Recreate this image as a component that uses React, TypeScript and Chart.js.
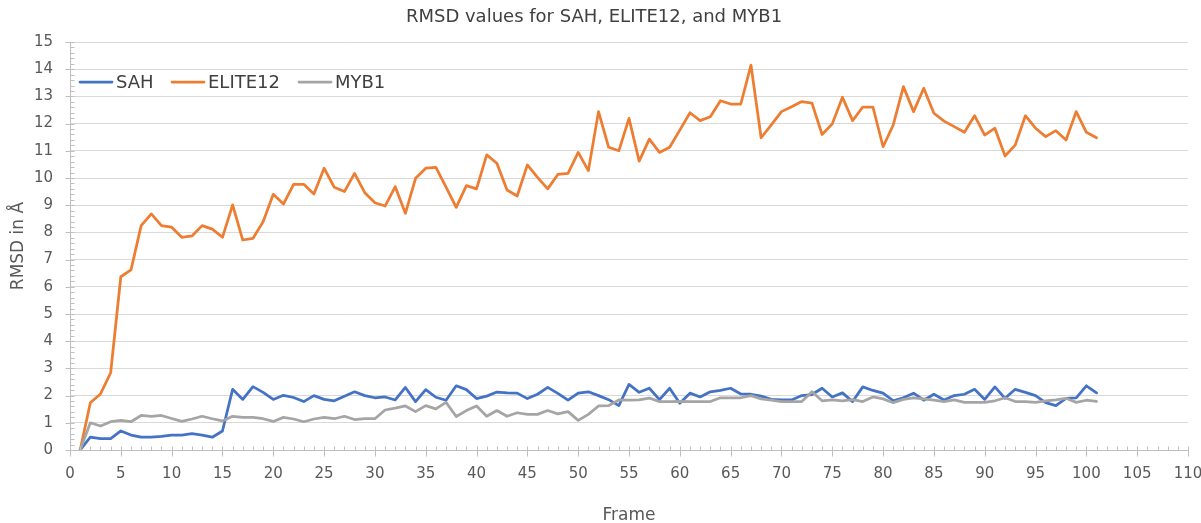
import React, { useEffect, useRef } from "react";
import { Chart, registerables } from "chart.js";

Chart.register(...registerables);

const frames = [
  1, 2, 3, 4, 5, 6, 7, 8, 9, 10, 11, 12, 13, 14, 15, 16, 17, 18, 19, 20,
  21, 22, 23, 24, 25, 26, 27, 28, 29, 30, 31, 32, 33, 34, 35, 36, 37, 38, 39, 40,
  41, 42, 43, 44, 45, 46, 47, 48, 49, 50, 51, 52, 53, 54, 55, 56, 57, 58, 59, 60,
  61, 62, 63, 64, 65, 66, 67, 68, 69, 70, 71, 72, 73, 74, 75, 76, 77, 78, 79, 80,
  81, 82, 83, 84, 85, 86, 87, 88, 89, 90, 91, 92, 93, 94, 95, 96, 97, 98, 99, 100, 101,
];

const sah = [
  0, 0.47, 0.42, 0.42, 0.7, 0.55, 0.47, 0.47, 0.5, 0.55,
  0.55, 0.6, 0.55, 0.47, 0.7, 2.23, 1.86, 2.33, 2.12, 1.86,
  2.01, 1.93, 1.78, 2.0, 1.86, 1.81, 1.98, 2.14, 2.0, 1.92,
  1.95, 1.84, 2.3, 1.78, 2.22, 1.94, 1.83, 2.36, 2.22, 1.89,
  1.98, 2.13, 2.1, 2.09, 1.89, 2.05, 2.3, 2.08, 1.83, 2.09,
  2.14, 2.0, 1.85, 1.63, 2.41, 2.12, 2.27, 1.85, 2.27, 1.72,
  2.09, 1.95, 2.14, 2.19, 2.27, 2.06, 2.05, 1.98, 1.86, 1.84,
  1.84, 2.0, 2.04, 2.27, 1.95, 2.1, 1.78, 2.32, 2.19, 2.09,
  1.81, 1.92, 2.09, 1.83, 2.05, 1.84, 2.0, 2.05, 2.23, 1.86,
  2.32, 1.9, 2.23, 2.12, 2.0, 1.74, 1.63, 1.9, 1.92, 2.36, 2.1,
];

const elite12 = [
  0, 1.74, 2.06, 2.84, 6.37, 6.62, 8.25, 8.68, 8.25, 8.19,
  7.82, 7.87, 8.25, 8.12, 7.82, 9.01, 7.72, 7.78, 8.39, 9.4,
  9.04, 9.77, 9.77, 9.41, 10.36, 9.66, 9.5, 10.17, 9.46, 9.09,
  8.97, 9.68, 8.7, 9.99, 10.36, 10.39, 9.66, 8.92, 9.72, 9.6,
  10.85, 10.54, 9.56, 9.34, 10.48, 10.02, 9.6, 10.13, 10.17, 10.94,
  10.27, 12.44, 11.13, 11.0, 12.19, 10.62, 11.43, 10.94, 11.13, 11.76,
  12.4, 12.11, 12.25, 12.84, 12.72, 12.72, 14.15, 11.48, 11.95, 12.44,
  12.62, 12.81, 12.75, 11.6, 11.99, 12.97, 12.11, 12.61, 12.61, 11.15,
  11.95, 13.36, 12.44, 13.3, 12.38, 12.09, 11.89, 11.68, 12.29, 11.58,
  11.83, 10.81, 11.21, 12.29, 11.83, 11.52, 11.74, 11.4, 12.44, 11.68, 11.48,
];

const myb1 = [
  0, 1.0, 0.88, 1.04, 1.09, 1.04, 1.27, 1.24, 1.27, 1.16,
  1.05, 1.14, 1.24, 1.15, 1.07, 1.24, 1.2, 1.2, 1.15, 1.05,
  1.2, 1.14, 1.04, 1.14, 1.2, 1.15, 1.24, 1.12, 1.15, 1.15,
  1.47, 1.54, 1.62, 1.41, 1.63, 1.51, 1.75, 1.23, 1.45, 1.62,
  1.24, 1.45, 1.24, 1.37, 1.31, 1.31, 1.45, 1.33, 1.41, 1.09,
  1.31, 1.62, 1.63, 1.84, 1.83, 1.84, 1.91, 1.78, 1.78, 1.79,
  1.78, 1.78, 1.78, 1.92, 1.92, 1.92, 2.0, 1.88, 1.83, 1.78,
  1.78, 1.78, 2.14, 1.81, 1.84, 1.81, 1.85, 1.78, 1.95, 1.88,
  1.74, 1.86, 1.92, 1.88, 1.83, 1.78, 1.84, 1.75, 1.75, 1.75,
  1.81, 1.92, 1.78, 1.78, 1.75, 1.81, 1.84, 1.9, 1.75, 1.83, 1.79,
];

const seriesNames = ["SAH", "ELITE12", "MYB1"];
const seriesColors = ["#4472C4", "#ED7D31", "#A5A5A5"];
const chartTitle = "RMSD values for SAH, ELITE12, and MYB1";
const xTitle = "Frame";
const yTitle = "RMSD in Å";

const FONT = "'DejaVu Sans', Verdana, sans-serif";
const AXIS_COLOR = "#bfbfbf";

const decorPlugin = {
  id: "decor",
  afterDraw(chart: any) {
    const ctx = chart.ctx;
    const xs = chart.scales.x;
    const ys = chart.scales.y;
    const area = chart.chartArea;
    ctx.save();
    ctx.strokeStyle = AXIS_COLOR;
    ctx.lineWidth = 1;
    ctx.beginPath();
    // x ticks
    for (let v = 0; v <= 110; v += 1) {
      const px = Math.round(xs.getPixelForValue(v)) + 0.5;
      const b = Math.round(area.bottom) + 0.5;
      if (v % 5 === 0) {
        ctx.moveTo(px, b - 4);
        ctx.lineTo(px, b + 6);
      } else {
        ctx.moveTo(px, b - 4);
        ctx.lineTo(px, b);
      }
    }
    // y ticks
    for (let i = 0; i <= 75; i += 1) {
      const v = i * 0.2;
      const py = Math.round(ys.getPixelForValue(v)) + 0.5;
      const l = Math.round(area.left) + 0.5;
      if (i % 5 === 0) {
        ctx.moveTo(l - 5, py);
        ctx.lineTo(l + 4, py);
      } else {
        ctx.moveTo(l, py);
        ctx.lineTo(l + 4, py);
      }
    }
    ctx.stroke();

    // legend
    const legendY = 82;
    const items = [
      { x: 80, tx: 116 },
      { x: 172, tx: 208 },
      { x: 299, tx: 335 },
    ];
    ctx.font = `18px ${FONT}`;
    ctx.textBaseline = "middle";
    ctx.textAlign = "left";
    items.forEach((it, i) => {
      ctx.strokeStyle = seriesColors[i];
      ctx.lineWidth = 2.75;
      ctx.lineCap = "round";
      ctx.beginPath();
      ctx.moveTo(it.x, legendY);
      ctx.lineTo(it.x + 32, legendY);
      ctx.stroke();
      ctx.fillStyle = "#404040";
      ctx.fillText(seriesNames[i], it.tx, legendY + 1);
    });
    ctx.restore();
  },
};

export default function App() {
  const canvasRef = useRef<HTMLCanvasElement | null>(null);

  useEffect(() => {
    if (!canvasRef.current) return;
    const values = [sah, elite12, myb1];
    const chart = new Chart(canvasRef.current, {
      type: "line",
      data: {
        datasets: values.map((arr, i) => ({
          label: seriesNames[i],
          data: frames.map((f, j) => ({ x: f, y: arr[j] })),
          borderColor: seriesColors[i],
          backgroundColor: seriesColors[i],
          borderWidth: 2.75,
          pointRadius: 0,
          pointHoverRadius: 0,
          tension: 0,
          borderJoinStyle: "round" as const,
          borderCapStyle: "round" as const,
          fill: false,
          order: 3 - i,
        })),
      },
      options: {
        responsive: false,
        animation: false,
        maintainAspectRatio: false,
        layout: { padding: { left: 0, right: 13, top: 0, bottom: 0 } },
        plugins: {
          legend: { display: false },
          tooltip: { enabled: false },
          title: {
            display: true,
            text: chartTitle,
            color: "#404040",
            font: { family: FONT, size: 18, weight: "normal" },
            padding: { top: 7, bottom: 13.4 },
          },
        },
        scales: {
          x: {
            type: "linear",
            min: 0,
            max: 110,
            ticks: {
              stepSize: 5,
              color: "#595959",
              font: { family: FONT, size: 15 },
              padding: 15,
              maxRotation: 0,
              autoSkip: false,
            },
            grid: { display: false, drawTicks: false },
            border: { display: true, color: AXIS_COLOR, width: 1 },
            title: {
              display: true,
              text: xTitle,
              color: "#595959",
              font: { family: FONT, size: 17 },
              padding: { top: 0, bottom: -3 },
            },
            afterFit(scale: any) {
              scale.height = 73;
              scale.paddingLeft = 0;
              scale.paddingRight = 0;
            },
          },
          y: {
            type: "linear",
            min: 0,
            max: 15,
            ticks: {
              stepSize: 1,
              color: "#595959",
              font: { family: FONT, size: 15 },
              padding: 17,
            },
            grid: { color: "#d9d9d9", lineWidth: 1, drawTicks: false },
            border: { display: true, color: AXIS_COLOR, width: 1 },
            title: {
              display: true,
              text: yTitle,
              color: "#595959",
              font: { family: FONT, size: 17 },
              padding: { top: 8, bottom: 0 },
            },
            afterFit(scale: any) {
              scale.width = 70;
              scale.paddingTop = 0;
              scale.paddingBottom = 0;
            },
          },
        },
      },
      plugins: [decorPlugin],
    });
    return () => chart.destroy();
  }, []);

  return (
    <div style={{ position: "fixed", left: 0, top: 0, width: 1201, height: 523, background: "#fff" }}>
      <canvas ref={canvasRef} width={1201} height={523} style={{ display: "block" }} />
    </div>
  );
}
